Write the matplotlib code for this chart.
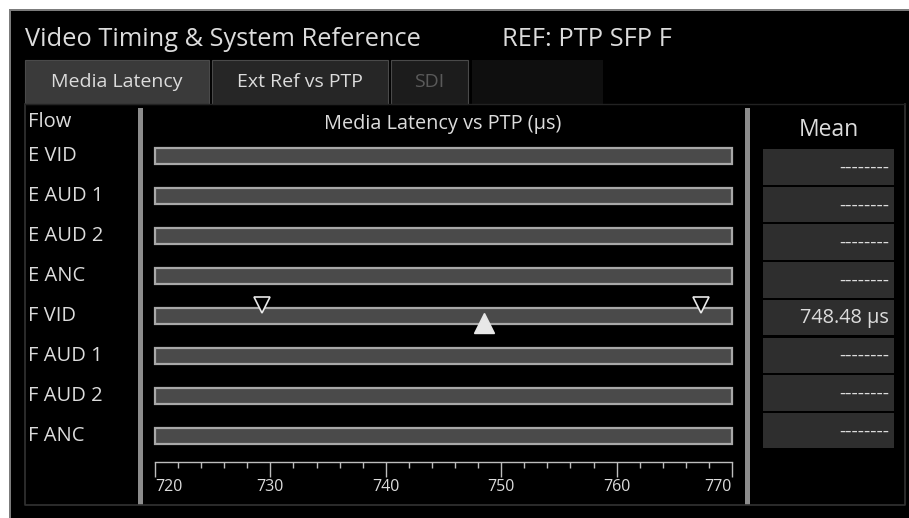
import matplotlib
matplotlib.use("Agg")
import matplotlib.pyplot as plt
from matplotlib.patches import Rectangle
from matplotlib.ticker import MultipleLocator

# ---------------- data ----------------
flows = ["E VID", "E AUD 1", "E AUD 2", "E ANC", "F VID", "F AUD 1", "F AUD 2", "F ANC"]
scale_min = 720
scale_max = 770
tick_values = [720, 730, 740, 750, 760, 770]
fvid_min = 729.3
fvid_max = 767.3
fvid_mean = 748.48
mean_labels = ["--------", "--------", "--------", "--------",
               f"{fvid_mean:.2f} µs", "--------", "--------", "--------"]
tabs = ["Media Latency", "Ext Ref vs PTP", "SDI"]

# ---------------- style ----------------
W, H = 909, 518
FONT = ["Open Sans", "DejaVu Sans"]
plt.rcParams["font.family"] = FONT
TXT = "#dcdcdc"
BAR_FILL = "#4a4a4a"
BAR_EDGE = "#a8a8a8"
SEP = "#8c8c8c"
BOX = "#2e2e2e"

fig = plt.figure(figsize=(W / 100, H / 100), dpi=100, facecolor="black")

# background / chrome axes in pixel coordinates
bg = fig.add_axes([0, 0, 1, 1])
bg.set_xlim(0, W)
bg.set_ylim(H, 0)
bg.axis("off")
bg.set_facecolor("black")

def rect(x0, y0, x1, y1, **kw):
    bg.add_patch(Rectangle((x0, y0), x1 - x0, y1 - y0, **kw))

# white margin top / left
rect(0, 0, W, 8.5, facecolor="white", edgecolor="none")
rect(0, 0, 8.5, H, facecolor="white", edgecolor="none")
# outer frame lines
rect(8.5, 8.5, W, 11, facecolor="#7c7c7c", edgecolor="none")
rect(8.5, 8.5, 11, H, facecolor="#7c7c7c", edgecolor="none")

# title texts
bg.text(25, 40, "Video Timing & System Reference", color=TXT, fontsize=18.3,
        ha="left", va="center")
bg.text(502, 40, "REF: PTP SFP F", color=TXT, fontsize=18.3, ha="left", va="center")

# tabs
tab_boxes = [(25, 209, "#3a3a3a", TXT), (212, 388, "#262626", TXT), (391, 468, "#1c1c1c", "#5a5a5a")]
for (x0, x1, fc, tc), label in zip(tab_boxes, tabs):
    rect(x0, 60, x1, 104, facecolor=fc, edgecolor="#4a4a4a", linewidth=0.8)
    bg.text((x0 + x1) / 2, 82, label, color=tc, fontsize=14, ha="center", va="center")
rect(472, 60, 603, 104, facecolor="#0f0f0f", edgecolor="none")

# inner panel border
bg.plot([25, 25, 905, 905], [104, 505, 505, 104], color="#333333", lw=1.2)
bg.plot([25, 905], [104, 104], color="#222222", lw=1.0)

# separators
rect(138, 108, 142.5, 505, facecolor=SEP, edgecolor="none")
rect(745, 108, 749.5, 505, facecolor=SEP, edgecolor="none")

# headers
bg.text(28, 122, "Flow", color=TXT, fontsize=14.5, ha="left", va="center")
bg.text(443, 124, "Media Latency vs PTP (µs)", color=TXT, fontsize=14.3, ha="center", va="center")
bg.text(829, 130, "Mean", color=TXT, fontsize=16.5, ha="center", va="center")

# row labels and mean boxes
row_top, row_pitch = 136, 40
box_top, box_pitch, box_h = 149, 37.7, 35.5
for i, (name, m) in enumerate(zip(flows, mean_labels)):
    yc = row_top + row_pitch * (i + 0.5)
    bg.text(28, yc, name, color=TXT, fontsize=14.5, ha="left", va="center")
    by = box_top + box_pitch * i
    rect(763, by, 894, by + box_h, facecolor=BOX, edgecolor="none")
    if m.startswith("-"):
        bg.text(889, by + box_h / 2 + 1, m, color=TXT, fontsize=14, ha="right", va="center")
    else:
        bg.text(889, by + box_h / 2, m, color=TXT, fontsize=14.3, ha="right", va="center")

# ---------------- chart axes ----------------
px_per_unit = (732 - 155) / (scale_max - scale_min)
ax_x0, ax_x1 = 146, 741
xlo = scale_min - (155 - ax_x0) / px_per_unit
xhi = scale_max + (ax_x1 - 732) / px_per_unit

ax = fig.add_axes([ax_x0 / W, 1 - (row_top + row_pitch * len(flows)) / H,
                   (ax_x1 - ax_x0) / W, row_pitch * len(flows) / H])
ax.set_xlim(xlo, xhi)
ax.set_ylim(len(flows) - 0.5, -0.5)
ax.axis("off")
rows = list(range(len(flows)))
ax.barh(rows, [scale_max - scale_min] * len(flows), left=scale_min, height=0.4,
        color=BAR_FILL, edgecolor=BAR_EDGE, linewidth=1.6)

fi = flows.index("F VID")
ax.plot([fvid_min, fvid_max], [fi - 0.28, fi - 0.28], linestyle="none", marker="v",
        markersize=12, markerfacecolor="black", markeredgecolor="#e8e8e8", markeredgewidth=1.2)
ax.plot([fvid_mean], [fi + 0.17], linestyle="none", marker="^", markersize=14,
        markerfacecolor="#e8e8e8", markeredgecolor="#e8e8e8")

# tick axis
tax = fig.add_axes([ax_x0 / W, 1 - 462 / H, (ax_x1 - ax_x0) / W, 0.001])
tax.set_xlim(xlo, xhi)
tax.set_facecolor("none")
for s in ["top", "left", "right"]:
    tax.spines[s].set_visible(False)
tax.spines["bottom"].set_color("#bdbdbd")
tax.spines["bottom"].set_linewidth(1.0)
tax.spines["bottom"].set_bounds(scale_min, scale_max)
tax.set_yticks([])
tax.set_xticks(tick_values)
tax.set_xticklabels([str(v) for v in tick_values])
tax.xaxis.set_minor_locator(MultipleLocator(2))
tax.tick_params(axis="x", which="major", direction="out", length=11, width=1.0,
                color="#bdbdbd", labelcolor=TXT, labelsize=11.5, pad=1)
tax.tick_params(axis="x", which="minor", direction="out", length=4.5, width=1.0,
                color="#bdbdbd")
labels = tax.get_xticklabels()
labels[0].set_ha("left")
labels[-1].set_ha("right")

fig.savefig("out.png", dpi=100, facecolor="black")
